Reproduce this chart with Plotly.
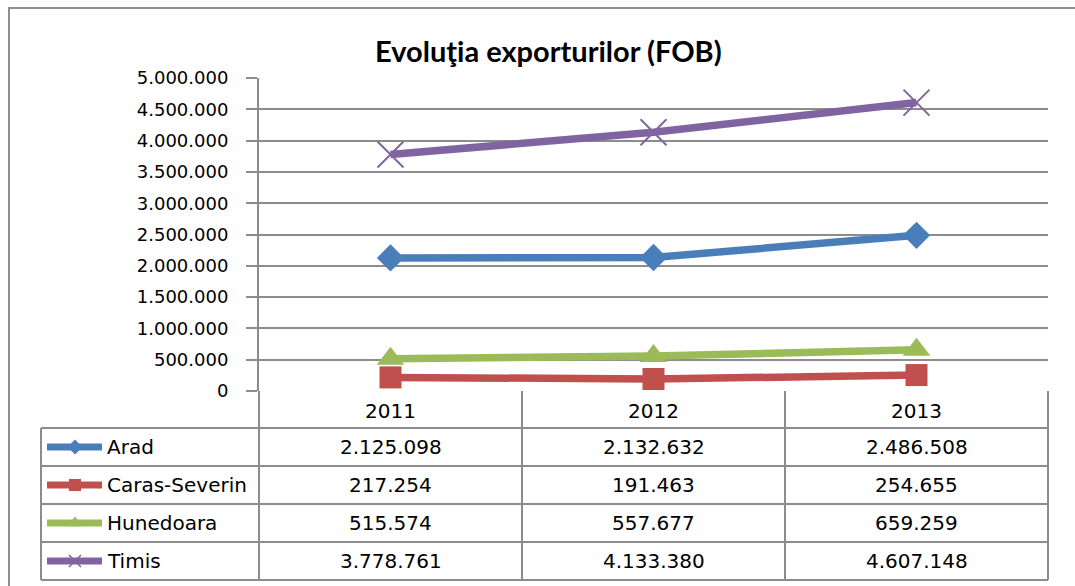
import plotly.graph_objects as go

# ---------------- data ----------------
years = ["2011", "2012", "2013"]
arad = [2125098, 2132632, 2486508]
caras_severin = [217254, 191463, 254655]
hunedoara = [515574, 557677, 659259]
timis = [3778761, 4133380, 4607148]

series_names = ["Arad", "Caras-Severin", "Hunedoara", "Timis"]
series_values = [arad, caras_severin, hunedoara, timis]
series_colors = ["#4A7EBB", "#C0504D", "#9BBB59", "#8064A2"]
series_symbols = ["diamond", "square", "triangle-up", "x-thin-open"]
series_sizes = [21, 22, 24, 26]

title_text = "Evoluţia exporturilor (FOB)"

W, H = 1075, 586
GRID = "#8C8C8C"
FONT = "DejaVu Sans"

# geometry (pixels)
PL, PR, PT, PB = 259, 1048, 78, 391      # plot area
TBL_L = 41
ROW_Y = [391, 428, 466, 504, 542, 580]   # header top, row boundaries
COL_X = [259, 522, 785, 1048]


def px(x):
    return x / W


def py(y):
    return 1 - y / H


fig = go.Figure()

for name, vals, col, sym, sz in zip(series_names, series_values, series_colors, series_symbols, series_sizes):
    is_x = sym.startswith("x")
    fig.add_trace(go.Scatter(
        x=years, y=vals, name=name, mode="lines+markers",
        line=dict(color=col, width=7.5),
        marker=dict(symbol=sym, size=sz, color=col,
                    line=dict(color=col, width=2 if is_x else 0)),
        xaxis="x", yaxis="y", showlegend=False, hoverinfo="x+y+name",
    ))

# legend keys inside the data table (overlay pixel axes)
for i, (name, col, sym, sz) in enumerate(zip(series_names, series_colors, series_symbols, series_sizes)):
    yc = (ROW_Y[i + 1] + ROW_Y[i + 2]) / 2
    is_x = sym.startswith("x")
    fig.add_trace(go.Scatter(
        x=[47, 102], y=[yc, yc], mode="lines",
        line=dict(color=col, width=7), xaxis="x2", yaxis="y2",
        showlegend=False, hoverinfo="skip",
    ))
    fig.add_trace(go.Scatter(
        x=[75], y=[yc], mode="markers",
        marker=dict(symbol=sym, size=(sz * 0.55 if not is_x else 12), color=col,
                    line=dict(color=col, width=1.5 if is_x else 0)),
        xaxis="x2", yaxis="y2", showlegend=False, hoverinfo="skip",
    ))

shapes = []
# outer chart border
shapes.append(dict(type="rect", xref="paper", yref="paper",
                   x0=px(9), x1=px(1100), y0=py(8), y1=py(620),
                   line=dict(color="#8E8E8E", width=2), layer="below"))


def hline(y, x0, x1):
    shapes.append(dict(type="line", xref="paper", yref="paper",
                       x0=px(x0), x1=px(x1), y0=py(y), y1=py(y),
                       line=dict(color=GRID, width=2)))


def vline(x, y0, y1):
    shapes.append(dict(type="line", xref="paper", yref="paper",
                       x0=px(x), x1=px(x), y0=py(y0), y1=py(y1),
                       line=dict(color=GRID, width=2)))


for y in ROW_Y[1:]:
    hline(y, TBL_L, COL_X[-1])
for x in COL_X:
    vline(x, ROW_Y[0], ROW_Y[-1])
vline(TBL_L, ROW_Y[1], ROW_Y[-1])

annotations = []
annotations.append(dict(text="<b>" + title_text + "</b>", xref="paper", yref="paper",
                        x=px(548), y=py(50), xanchor="center", yanchor="middle",
                        showarrow=False, font=dict(family="Lato", size=29, color="#000000")))

# header years
for j, yr in enumerate(years):
    annotations.append(dict(text=yr, xref="paper", yref="paper",
                            x=px((COL_X[j] + COL_X[j + 1]) / 2), y=py((ROW_Y[0] + ROW_Y[1]) / 2 + 1),
                            xanchor="center", yanchor="middle", showarrow=False,
                            font=dict(family=FONT, size=20, color="#000000")))


def fmt(v):
    return f"{v:,}".replace(",", ".")


for i, (name, vals) in enumerate(zip(series_names, series_values)):
    yc = (ROW_Y[i + 1] + ROW_Y[i + 2]) / 2
    annotations.append(dict(text=name, xref="paper", yref="paper",
                            x=px(105), y=py(yc), xanchor="left", yanchor="middle", showarrow=False,
                            font=dict(family=FONT, size=20, color="#000000")))
    for j, v in enumerate(vals):
        annotations.append(dict(text=fmt(v), xref="paper", yref="paper",
                                x=px((COL_X[j] + COL_X[j + 1]) / 2), y=py(yc),
                                xanchor="center", yanchor="middle", showarrow=False,
                                font=dict(family=FONT, size=20, color="#000000")))

fig.update_layout(
    width=W, height=H,
    margin=dict(l=0, r=0, t=0, b=0, pad=0, autoexpand=False),
    paper_bgcolor="white", plot_bgcolor="rgba(0,0,0,0)",
    separators=",.",
    showlegend=False,
    shapes=shapes,
    annotations=annotations,
    xaxis=dict(domain=[px(PL), px(PR)], type="category", range=[-0.5, 2.5],
               showticklabels=False, showgrid=False, zeroline=False, showline=False,
               fixedrange=True, automargin=False),
    yaxis=dict(domain=[py(PB), py(PT)], range=[0, 5000000], dtick=500000,
               tickformat=",d", showgrid=True, gridcolor=GRID, gridwidth=2,
               zeroline=False, showline=True, linecolor=GRID, linewidth=2,
               ticks="outside", ticklen=11, tickcolor=GRID, tickwidth=2,
               ticklabelstandoff=14, automargin=False,
               tickfont=dict(family=FONT, size=18, color="#000000"),
               fixedrange=True),
    xaxis2=dict(domain=[0, 1], range=[0, W], visible=False, anchor="y2", fixedrange=True,
                automargin=False),
    yaxis2=dict(domain=[0, 1], range=[H, 0], visible=False, anchor="x2", fixedrange=True,
                automargin=False),
)

fig.write_html(
    "out.html",
    config={"displayModeBar": False},
    post_script="document.body.style.margin='0';document.body.style.overflow='hidden';",
)
